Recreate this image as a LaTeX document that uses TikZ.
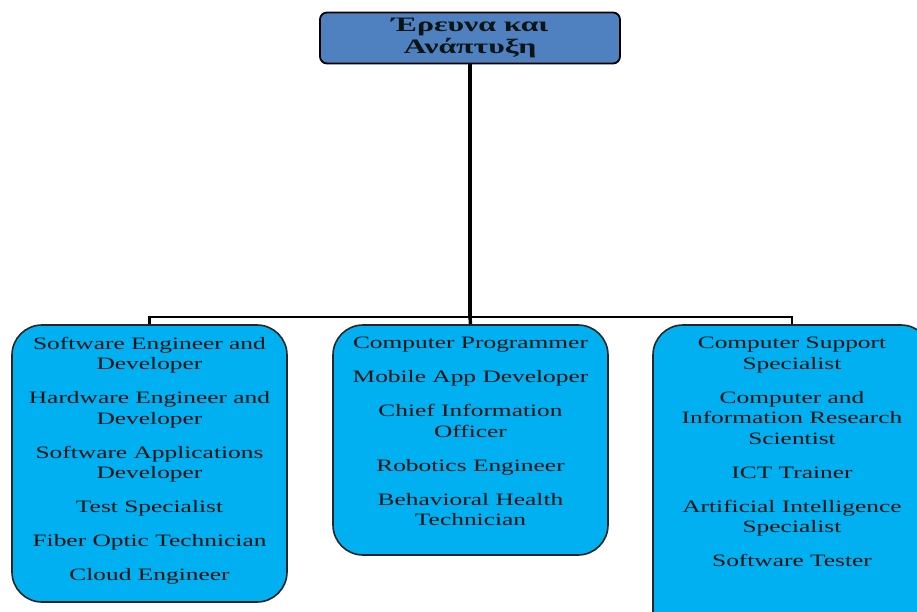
\documentclass[tikz,border=0pt]{standalone}
\usepackage{fontspec}
\newfontfamily\wide[FakeStretch=1.46]{Liberation Serif}
\newfontfamily\widetitle[FakeStretch=1.55]{Liberation Serif}
\definecolor{topblue}{HTML}{4F80C0}
\definecolor{boxcyan}{HTML}{00B0F0}
\definecolor{txt}{HTML}{0A1414}
\tikzset{
  topbox/.style={draw=black, line width=1.8pt, fill=topblue, rounded corners=7pt, minimum width=300pt, minimum height=51pt, inner sep=0pt},
  rolebox/.style={draw=black!85, line width=1.6pt, fill=boxcyan, rounded corners=30pt, minimum width=275pt, inner sep=0pt},
  roletext/.style={anchor=north, inner sep=0pt, align=center, text=txt, font=\wide\fontsize{17.4}{20.5}\selectfont},
  link/.style={draw=black, line width=3.4pt},
  buslink/.style={draw=black, line width=2.6pt},
}
\begin{document}
\begin{tikzpicture}[x=1pt,y=-1pt]
\clip (0,0) rectangle (917,612);
\fill[white] (0,0) rectangle (917,612);
\node[topbox, align=center, text=txt, font=\widetitle\bfseries\fontsize{20.5}{22.5}\selectfont] (top) at (470,38) {Έρευνα και\\Ανάπτυξη};
\node[rolebox, minimum height=277pt] (L) at (149.5,463.5) {};
\node[rolebox, minimum height=230pt] (M) at (470.5,440) {};
\node[rolebox, minimum width=278pt, minimum height=320pt] (R) at (792,485) {};
\coordinate (bus) at (470,317);
\draw[link] (top.south) -- (bus);
\draw[buslink] (bus) -| (L.north);
\draw[buslink] (bus) -| (R.north);
\draw[link] (bus) -- (M.north);
\node[roletext] (Lt) at (149.5,337) {Software Engineer and\\Developer\\[13.5pt]Hardware Engineer and\\Developer\\[13.5pt]Software Applications\\Developer\\[13.5pt]Test Specialist\\[13.5pt]Fiber Optic Technician\\[13.5pt]Cloud Engineer};
\node[roletext] (Mt) at (470.5,337) {Computer Programmer\\[13.5pt]Mobile App Developer\\[13.5pt]Chief Information\\Officer\\[13.5pt]Robotics Engineer\\[13.5pt]Behavioral Health\\Technician};
\node[roletext] (Rt) at (792,337) {Computer Support\\Specialist\\[13.5pt]Computer and\\Information Research\\Scientist\\[13.5pt]ICT Trainer\\[13.5pt]Artificial Intelligence\\Specialist\\[13.5pt]Software Tester};
\end{tikzpicture}
\end{document}
